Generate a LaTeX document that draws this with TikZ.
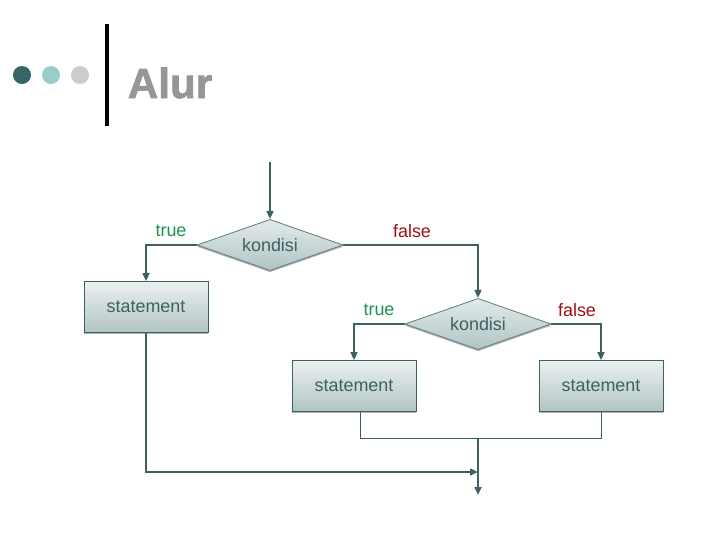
\documentclass[tikz,border=0pt]{standalone}
\usepackage{fontspec}
\setmainfont{Liberation Sans}
\newfontfamily\heavyfont[FakeBold=1.6]{Liberation Sans Bold}
\usepackage{xcolor}
\usetikzlibrary{positioning,arrows.meta,calc,shapes.geometric,shadows}
\definecolor{lnc}{RGB}{61,96,96}
\definecolor{dotA}{RGB}{53,101,101}
\definecolor{dotB}{RGB}{153,204,204}
\definecolor{dotC}{RGB}{204,204,204}
\definecolor{tcol}{RGB}{31,144,80}
\definecolor{fcol}{RGB}{160,16,16}
\definecolor{ttlc}{RGB}{150,150,150}
\begin{document}
\begin{tikzpicture}[x=0.025cm, y=-0.025cm,
  txt/.style={font=\fontsize{12.75}{14}\selectfont},
  stm/.style={txt, draw=lnc, line width=0.6pt, top color={rgb,255:red,234;green,240;blue,240}, bottom color={rgb,255:red,178;green,196;blue,196},
    minimum width=3.1cm, minimum height=1.27cm, text=lnc, drop shadow={shadow xshift=0pt, shadow yshift=-1.3pt, fill=gray!60, opacity=1}},
  cnd/.style={txt, diamond, aspect=2.9, inner sep=1pt, draw=lnc!80, line width=0.6pt, top color={rgb,255:red,226;green,234;blue,234}, bottom color={rgb,255:red,176;green,196;blue,196},
    minimum width=3.65cm, minimum height=1.28cm, text=lnc, drop shadow={shadow xshift=0pt, shadow yshift=-1.2pt, fill=gray!60, opacity=1}},
  flow/.style={draw=lnc, line width=1.4pt, ->},
  thn/.style={draw=lnc, line width=0.7pt},
  lt/.style={txt, text=tcol},
  lf/.style={txt, text=fcol},
  >={Triangle[length=2mm, width=1.7mm]}]
\useasboundingbox (0,0) rectangle (720,540);
% title
\fill[dotA] (22,75) circle (0.225cm);
\fill[dotB] (51,75) circle (0.225cm);
\fill[dotC] (80,75) circle (0.225cm);
\fill[black] (105,24) rectangle (109,126);
\node[font=\fontsize{30}{30}\selectfont\heavyfont, text=ttlc] (ttl) at (170,83) {Alur};
% flowchart
\coordinate (in) at (270,162);
\node[cnd] (c1) at (270,245) {kondisi};
\node[stm] (s1) at (146,307) {statement};
\node[cnd] (c2) at (478,324) {kondisi};
\node[stm] (s2) at (354,386) {statement};
\node[stm] (s3) at (601,386) {statement};
\coordinate (mrg) at (478,438);
\coordinate (jn) at (478,472);
\coordinate (out) at (478,495);
\draw[flow] (in) -- (c1.north);
\draw[flow] (c1.west) -| (s1.north);
\draw[flow] (c1.east) -| (c2.north);
\draw[flow] (c2.west) -| (s2.north);
\draw[flow] (c2.east) -| (s3.north);
\draw[thn] ([xshift=0.15cm]s2.south) |- (mrg) -| (s3.south);
\draw[flow] (mrg) -- (out);
\draw[flow] (s1.south) |- (jn);
\node[lt] (t1) at (171,231) {true};
\node[lf] (f1) at (412,231) {false};
\node[lt] (t2) at (379,310) {true};
\node[lf] (f2) at (577,310) {false};
\end{tikzpicture}
\end{document}
